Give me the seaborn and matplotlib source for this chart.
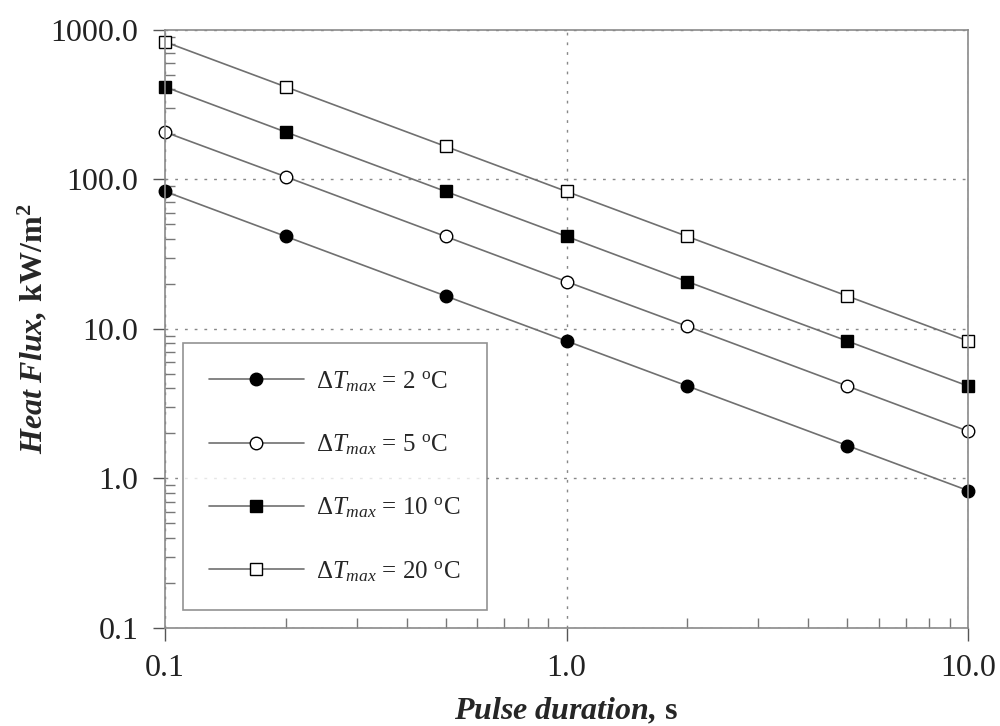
import matplotlib
matplotlib.use("Agg")
import matplotlib.pyplot as plt
import seaborn as sns
import pandas as pd
from matplotlib.ticker import FixedLocator, FormatStrFormatter, LogLocator, NullFormatter

# pulse duration (s) and heat flux (kW/m2) for each max temperature rise
pulse = [0.1, 0.2, 0.5, 1.0, 2.0, 5.0, 10.0]
flux_2 = [83, 41.5, 16.6, 8.3, 4.15, 1.66, 0.83]
flux_5 = [207, 104, 41.5, 20.7, 10.4, 4.15, 2.07]
flux_10 = [415, 207, 83, 41.5, 20.7, 8.3, 4.15]
flux_20 = [830, 415, 166, 83, 41.5, 16.6, 8.3]
labels = ["2", "5", "10", "20"]

sns.set_style("white")
plt.rcParams["font.family"] = ["Liberation Serif", "DejaVu Serif"]
plt.rcParams["mathtext.fontset"] = "custom"
plt.rcParams["mathtext.rm"] = "Liberation Serif"
plt.rcParams["mathtext.it"] = "Liberation Serif:italic"
plt.rcParams["mathtext.bf"] = "Liberation Serif:bold"
plt.rcParams["mathtext.sf"] = "Liberation Serif:italic:bold"

df = pd.DataFrame({"pulse": pulse * 4,
                   "flux": flux_2 + flux_5 + flux_10 + flux_20,
                   "dT": sum([[l] * len(pulse) for l in labels], [])})

fig = plt.figure(figsize=(10, 7.26), dpi=100)
ax = fig.add_axes([0.165, 0.135, 0.803, 0.824])

styles = {"2": ("o", "black"), "5": ("o", "white"), "10": ("s", "black"), "20": ("s", "white")}
for l in labels:
    m, fc = styles[l]
    sub = df[df["dT"] == l]
    sns.lineplot(data=sub, x="pulse", y="flux", ax=ax, color="#707070", lw=1.2,
                 marker=m, markersize=9, markerfacecolor=fc, markeredgecolor="black",
                 markeredgewidth=1.0, clip_on=False,
                 label=r"$\Delta T_{max}$ = " + l + r" $^{\rm o}$C")

ax.set_xscale("log")
ax.set_yscale("log")
ax.set_xlim(0.1, 10)
ax.set_ylim(0.1, 1000)
ax.xaxis.set_major_locator(FixedLocator([0.1, 1, 10]))
ax.yaxis.set_major_locator(FixedLocator([0.1, 1, 10, 100, 1000]))
ax.xaxis.set_major_formatter(FormatStrFormatter("%.1f"))
ax.yaxis.set_major_formatter(FormatStrFormatter("%.1f"))
ax.xaxis.set_minor_locator(LogLocator(base=10, subs=range(2, 10)))
ax.yaxis.set_minor_locator(LogLocator(base=10, subs=range(2, 10)))
ax.xaxis.set_minor_formatter(NullFormatter())
ax.yaxis.set_minor_formatter(NullFormatter())
ax.tick_params(which="both", bottom=True, left=True)
ax.tick_params(which="major", direction="out", length=9, width=1, colors="#555555",
               labelcolor="#222222", labelsize=23, pad=10)
ax.tick_params(which="minor", direction="in", length=7, width=1, colors="#777777")
ax.grid(True, which="major", ls=(0, (2, 5)), color="#888888", lw=1)
for s in ax.spines.values():
    s.set_color("#8a8a8a")
    s.set_linewidth(1.2)

ax.set_xlabel(r"$\mathsf{Pulse\ duration,}\,\mathbf{s}$", fontsize=23, labelpad=9)
ax.set_ylabel(r"$\mathsf{Heat\ Flux,}\,\mathbf{kW/m^2}$", fontsize=23, labelpad=1)

leg = ax.legend(loc="lower left", bbox_to_anchor=(0.022, 0.03), fontsize=18, handlelength=3.8,
                labelspacing=1.55, borderpad=1.05, fancybox=False, frameon=True,
                handletextpad=0.5, borderaxespad=0)
leg.get_frame().set_edgecolor("#777777")
leg.get_frame().set_linewidth(1.2)

fig.savefig("out.png", dpi=100)
